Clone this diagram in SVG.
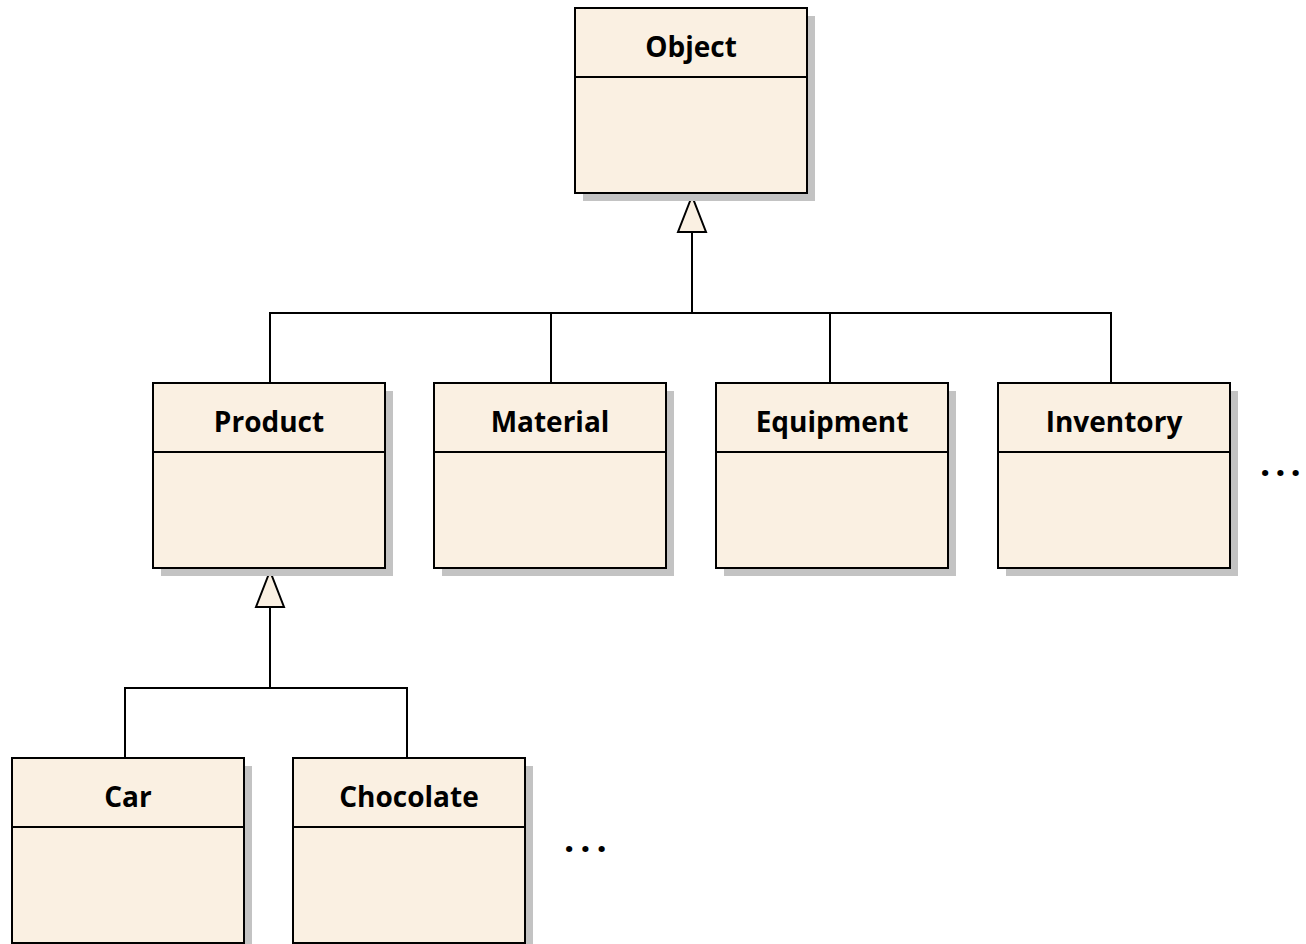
<svg xmlns="http://www.w3.org/2000/svg" width="1306" height="944" viewBox="0 0 1306 944">
  <style>
    .shadow { fill: #c3c3c3; }
    .box { fill: #faf0e2; stroke: #000; stroke-width: 2; }
    .sep { stroke: #000; stroke-width: 2; }
    .name { font-family: "Open Sans", "Noto Sans", sans-serif; font-weight: bold; font-size: 28px; text-anchor: middle; fill: #000; }
    .more { font-family: "Open Sans", "Noto Sans", sans-serif; font-weight: bold; font-size: 36px; fill: #000; }
    .wire { fill: none; stroke: #000; stroke-width: 2; }
    .head { fill: #faf0e2; stroke: #000; stroke-width: 2; stroke-linejoin: miter; }
  </style>
  <defs>
    <!-- class box: 232 x 185, header 69 high -->
    <g id="cls">
      <rect class="shadow" x="8" y="8" width="232" height="185"/>
      <rect class="box" x="0" y="0" width="232" height="185"/>
      <line class="sep" x1="0" y1="69" x2="232" y2="69"/>
    </g>
  </defs>
  <rect width="1306" height="944" fill="#fff"/>

  <g id="connectors">
    <!-- Object generalization -->
    <polyline class="wire" points="270,383 270,313 1111,313 1111,383"/>
    <line class="wire" x1="551" y1="313" x2="551" y2="383"/>
    <line class="wire" x1="830" y1="313" x2="830" y2="383"/>
    <line class="wire" x1="692" y1="232" x2="692" y2="313" stroke-width="2.5"/>
    <polygon class="head" points="692,196 678,232 706,232"/>
    <!-- Product generalization -->
    <polyline class="wire" points="125,758 125,688 407,688 407,758"/>
    <line class="wire" x1="270" y1="607" x2="270" y2="688" stroke-width="2.5"/>
    <polygon class="head" points="270,571 256,607 284,607"/>
  </g>

  <g id="node-object" transform="translate(575,8)">
    <use href="#cls"/>
    <text class="name" x="116" y="49">Object</text>
  </g>
  <g id="node-product" transform="translate(153,383)">
    <use href="#cls"/>
    <text class="name" x="116" y="49">Product</text>
  </g>
  <g id="node-material" transform="translate(434,383)">
    <use href="#cls"/>
    <text class="name" x="116" y="49">Material</text>
  </g>
  <g id="node-equipment" transform="translate(716,383)">
    <use href="#cls"/>
    <text class="name" x="116" y="49">Equipment</text>
  </g>
  <g id="node-inventory" transform="translate(998,383)">
    <use href="#cls"/>
    <text class="name" x="116" y="49">Inventory</text>
  </g>
  <g id="node-car" transform="translate(12,758)">
    <use href="#cls"/>
    <text class="name" x="116" y="49">Car</text>
  </g>
  <g id="node-chocolate" transform="translate(293,758)">
    <use href="#cls"/>
    <text class="name" x="116" y="49">Chocolate</text>
  </g>

  <text id="more-top" class="more" x="1260" y="476" dx="0 5 5">...</text>
  <text id="more-bottom" class="more" x="564" y="852" dx="0 6 6">...</text>
</svg>
